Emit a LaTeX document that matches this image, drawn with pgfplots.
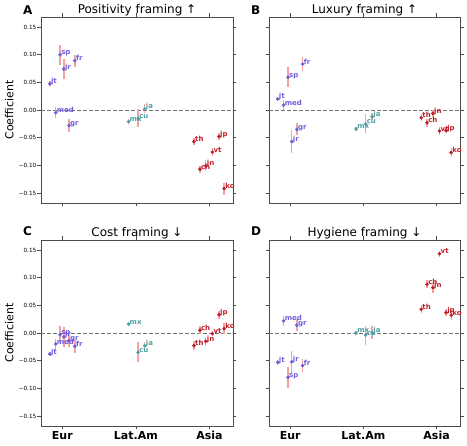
\documentclass[border=0pt]{standalone}
\usepackage{pgfplots}
\pgfplotsset{compat=1.18}
\usepackage{pgfplotstable}
\usepackage{fontspec}
\setmainfont{DejaVu Sans}

\definecolor{eurc}{RGB}{112,92,222}
\definecolor{latc}{RGB}{80,160,162}
\definecolor{asic}{RGB}{190,30,40}
\definecolor{errc}{RGB}{246,160,160}

% Positivity framing
\pgfplotstableread{
x y e lab
-0.17 0.0475 0.004 jt
-0.09 -0.005 0.010 med
-0.03 0.100 0.018 sp
0.02 0.074 0.018 jr
0.09 -0.028 0.012 gr
0.17 0.089 0.011 fr
0.90 -0.021 0.004 mx
1.03 -0.015 0.016 cu
1.12 0.002 0.008 ja
1.79 -0.057 0.006 th
1.87 -0.107 0.006 ch
1.95 -0.101 0.010 jn
2.04 -0.076 0.007 vt
2.13 -0.048 0.006 jp
2.20 -0.142 0.011 ko
}\tA
% Luxury framing
\pgfplotstableread{
x y e lab
-0.17 0.020 0.004 jt
-0.09 0.009 0.009 med
-0.03 0.059 0.018 sp
0.02 -0.057 0.020 jr
0.09 -0.035 0.011 gr
0.17 0.083 0.012 fr
0.90 -0.034 0.004 mx
1.03 -0.025 0.017 cu
1.12 -0.012 0.006 ja
1.79 -0.014 0.006 th
1.87 -0.023 0.007 ch
1.95 -0.006 0.006 jn
2.04 -0.038 0.007 vt
2.13 -0.037 0.005 jp
2.20 -0.077 0.008 ko
}\tB
% Cost framing
\pgfplotstableread{
x y e lab
-0.17 -0.038 0.004 jt
-0.09 -0.020 0.010 med
-0.03 -0.003 0.015 sp
0.02 -0.007 0.018 jr
0.09 -0.014 0.012 gr
0.17 -0.024 0.012 fr
0.90 0.016 0.004 mx
1.03 -0.035 0.018 cu
1.12 -0.023 0.006 ja
1.79 -0.023 0.008 th
1.87 0.005 0.007 ch
1.95 -0.015 0.008 jn
2.04 -0.001 0.005 vt
2.13 0.033 0.007 jp
2.20 0.008 0.010 ko
}\tC
% Hygiene framing
\pgfplotstableread{
x y e lab
-0.17 -0.053 0.004 jt
-0.09 0.022 0.009 med
-0.03 -0.080 0.019 sp
0.02 -0.052 0.020 jr
0.09 0.014 0.011 gr
0.17 -0.059 0.012 fr
0.90 0.000 0.004 mx
1.03 -0.004 0.017 cu
1.12 0.001 0.011 ja
1.79 0.043 0.007 th
1.87 0.088 0.007 ch
1.95 0.082 0.009 jn
2.04 0.143 0.006 vt
2.13 0.037 0.006 jp
2.20 0.032 0.009 ko
}\tD

\pgfplotsset{
  every axis title shift=0pt,
  panel/.style={
    scale only axis, width=192pt, height=186pt, anchor=north west,
    xmin=-0.29, xmax=2.32, ymin=-0.168, ymax=0.168,
    xtick={0,1,2}, ytick={-0.15,-0.10,-0.05,0,0.05,0.10,0.15},
    xticklabels={}, yticklabels={},
    tick align=outside, major tick length=3.5pt,
    tick style={black!70, line width=0.7pt},
    axis line style={black!70, line width=0.9pt},
    title style={font=\fontsize{12}{12}\selectfont, at={(0.5,1)}, anchor=base, yshift=3.5pt},
    yticklabel style={font=\fontsize{5.7}{6}\selectfont, inner sep=1pt},
    xticklabel style={font=\fontsize{11}{11}\selectfont\bfseries, inner sep=1.5pt},
    clip=false,
  },
  leftlabels/.style={yticklabels={−0.15,−0.10,−0.05,0.00,0.05,0.10,0.15}},
  bottomlabels/.style={xticklabels={Eur,Lat.Am,Asia}},
  grp/.style={only marks, mark=*, mark size=1.6pt, color=#1,
    mark options={draw=#1, fill=#1},
    point meta=explicit symbolic, nodes near coords,
    nodes near coords style={text=#1, font=\fontsize{7}{7}\selectfont\bfseries, anchor=base west, inner sep=0pt, xshift=1pt},
    error bars/y dir=both, error bars/y explicit, error bars/error mark=none,
    error bars/error bar style={errc, line width=1.4pt, solid}},
  zeroline/.style={black!55, dashed, dash pattern=on 4pt off 2pt, line width=0.9pt, mark=none, forget plot},
}

\newcommand{\panelplots}[1]{%
  \addplot[zeroline] coordinates {(-0.29,0) (2.32,0)};
  \addplot[grp=eurc, skip coords between index={6}{15}] table[x=x, y=y, y error=e, meta=lab]{#1};
  \addplot[grp=latc, skip coords between index={0}{6}, skip coords between index={9}{15}] table[x=x, y=y, y error=e, meta=lab]{#1};
  \addplot[grp=asic, skip coords between index={0}{9}] table[x=x, y=y, y error=e, meta=lab]{#1};
}

\begin{document}
\begin{tikzpicture}
\path[use as bounding box] (0pt,0pt) rectangle (467pt,-446pt);

\begin{axis}[panel, leftlabels, at={(41pt,-17pt)}, title={Positivity framing ↑}]
\panelplots{\tA}
\end{axis}

\begin{axis}[panel, at={(269pt,-17pt)}, width=191pt, title={Luxury framing ↑}]
\panelplots{\tB}
\end{axis}

\begin{axis}[panel, leftlabels, bottomlabels, at={(41pt,-240pt)}, title={Cost framing ↓}]
\panelplots{\tC}
\end{axis}

\begin{axis}[panel, bottomlabels, at={(269pt,-240pt)}, width=191pt, title={Hygiene framing ↓}]
\panelplots{\tD}
\end{axis}

\node[font=\fontsize{12}{12}\selectfont\bfseries, anchor=base west, inner sep=0pt] at (23pt,-15pt) {A};
\node[font=\fontsize{12}{12}\selectfont\bfseries, anchor=base west, inner sep=0pt] at (251pt,-15pt) {B};
\node[font=\fontsize{12}{12}\selectfont\bfseries, anchor=base west, inner sep=0pt] at (23pt,-236pt) {C};
\node[font=\fontsize{12}{12}\selectfont\bfseries, anchor=base west, inner sep=0pt] at (251pt,-236pt) {D};

\node[font=\fontsize{11}{11}\selectfont, rotate=90, anchor=base, inner sep=0pt] at (13.3pt,-110pt) {Coefficient};
\node[font=\fontsize{11}{11}\selectfont, rotate=90, anchor=base, inner sep=0pt] at (13.3pt,-333pt) {Coefficient};
\end{tikzpicture}
\end{document}
